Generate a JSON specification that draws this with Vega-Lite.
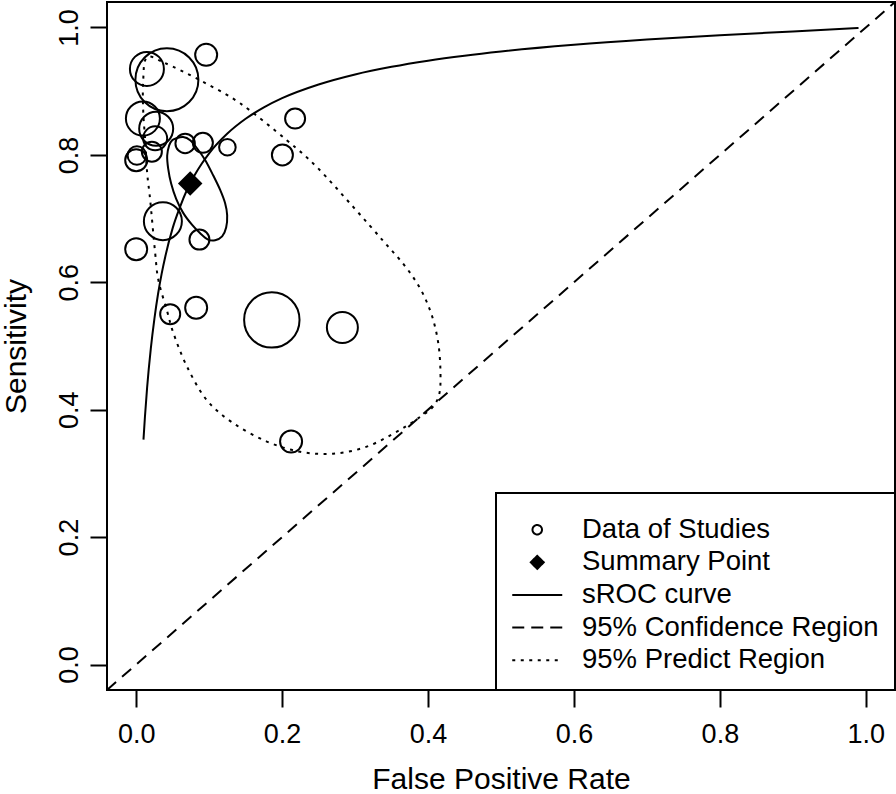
{
  "$schema": "https://vega.github.io/schema/vega-lite/v6.json",
  "width": 788,
  "height": 688,
  "autosize": {"type": "none"},
  "padding": {"left": 107, "top": 2, "right": 1, "bottom": 104},
  "background": "white",
  "config": {
    "view": {"stroke": "black", "strokeWidth": 2},
    "font": "Liberation Sans",
    "axis": {
      "domain": false,
      "grid": false,
      "ticks": true,
      "tickColor": "black",
      "tickWidth": 2,
      "tickSize": 17,
      "labelFont": "Liberation Sans",
      "labelFontSize": 27,
      "labelColor": "black",
      "labelOverlap": false,
      "titleFont": "Liberation Sans",
      "titleFontSize": 30,
      "titleFontWeight": "normal",
      "titleColor": "black"
    }
  },
  "layer": [
    {
      "data": {"values": [
        {"fpr": 0.0147, "sens": 0.935, "weight": 17},
        {"fpr": 0.0421, "sens": 0.918, "weight": 31.5},
        {"fpr": 0.0959, "sens": 0.957, "weight": 11},
        {"fpr": 0.0092, "sens": 0.857, "weight": 17},
        {"fpr": 0.0274, "sens": 0.841, "weight": 17},
        {"fpr": 0.0260, "sens": 0.826, "weight": 12},
        {"fpr": 0.0215, "sens": 0.805, "weight": 10},
        {"fpr": 0.0010, "sens": 0.799, "weight": 9.3},
        {"fpr": 0.0000, "sens": 0.7915, "weight": 11},
        {"fpr": 0.0671, "sens": 0.818, "weight": 9.7},
        {"fpr": 0.0914, "sens": 0.819, "weight": 10},
        {"fpr": 0.1250, "sens": 0.812, "weight": 8.3},
        {"fpr": 0.2178, "sens": 0.857, "weight": 10},
        {"fpr": 0.2004, "sens": 0.800, "weight": 10.5},
        {"fpr": 0.0366, "sens": 0.696, "weight": 19},
        {"fpr": 0.0867, "sens": 0.667, "weight": 10},
        {"fpr": 0.0000, "sens": 0.652, "weight": 11},
        {"fpr": 0.0466, "sens": 0.550, "weight": 10},
        {"fpr": 0.0822, "sens": 0.560, "weight": 11},
        {"fpr": 0.1859, "sens": 0.541, "weight": 27.7},
        {"fpr": 0.2826, "sens": 0.529, "weight": 15.5},
        {"fpr": 0.2123, "sens": 0.350, "weight": 11}
      ]},
      "mark": {"type": "point", "shape": "circle", "filled": false, "strokeWidth": 2, "opacity": 1},
      "encoding": {
        "x": {
          "field": "fpr", "type": "quantitative",
          "scale": {"domain": [-0.04, 1.04], "nice": false, "zero": false},
          "axis": {
            "values": [0, 0.2, 0.4, 0.6, 0.8, 1],
            "format": ".1f",
            "title": "False Positive Rate",
            "labelFlush": false,
            "labelPadding": 14,
            "titlePadding": 17
          }
        },
        "y": {
          "field": "sens", "type": "quantitative",
          "scale": {"domain": [-0.04, 1.04], "nice": false, "zero": false},
          "axis": {
            "values": [0, 0.2, 0.4, 0.6, 0.8, 1],
            "format": ".1f",
            "title": "Sensitivity",
            "labelAngle": -90,
            "labelAlign": "center",
            "labelBaseline": "alphabetic",
            "labelFlush": false,
            "labelPadding": 13,
            "titlePadding": 24
          }
        },
        "size": {
          "field": "weight", "type": "quantitative",
          "scale": {"type": "pow", "exponent": 2, "domain": [0, 32], "range": [0, 4096], "zero": true},
          "legend": null
        },
        "color": {
          "datum": "Data of Studies",
          "scale": {
            "domain": ["Data of Studies", "Summary Point", "sROC curve", "95% Confidence Region", "95% Predict Region"],
            "range": ["black", "black", "black", "black", "black"]
          },
          "legend": {
            "title": " ",
            "titleFontSize": 3,
            "titlePadding": 4,
            "orient": "bottom-right",
            "direction": "vertical",
            "offset": 0,
            "padding": 16,
            "strokeColor": "black",
            "fillColor": "white",
            "labelFont": "Liberation Sans",
            "labelFontSize": 27.5,
            "labelColor": "black",
            "labelLimit": 600,
            "labelOffset": 31,
            "rowPadding": 3.6,
            "symbolSize": 400,
            "symbolOffset": 11.5,
            "symbolStrokeWidth": 2,
            "symbolStrokeColor": "black",
            "encoding": {
              "legend": {"strokeWidth": {"value": 2}},
              "symbols": {
                "shape": {
                  "condition": [
                    {"test": "datum.value === 'Data of Studies'", "value": "M0.475,0A0.475,0.475,0,1,1,-0.475,0A0.475,0.475,0,1,1,0.475,0Z"},
                    {"test": "datum.value === 'Summary Point'", "value": "M-0.65,0L0,-0.65L0.65,0L0,0.65Z"}
                  ],
                  "value": "M-2.5,0L2.5,0"
                },
                "fill": {"value": "black"},
                "fillOpacity": {
                  "condition": {"test": "datum.value === 'Summary Point'", "value": 1},
                  "value": 0
                },
                "stroke": {"value": "black"},
                "strokeDash": {
                  "condition": [
                    {"test": "datum.value === '95% Confidence Region'", "value": [12, 7]},
                    {"test": "datum.value === '95% Predict Region'", "value": [3, 5.5]}
                  ],
                  "value": [1, 0]
                },
                "opacity": {"value": 1}
              }
            }
          }
        }
      }
    },
    {
      "data": {"values": [{"fpr": 0.074, "sens": 0.755}]},
      "mark": {"type": "point", "shape": "diamond", "filled": true, "size": 600, "opacity": 1},
      "encoding": {
        "x": {"field": "fpr", "type": "quantitative"},
        "y": {"field": "sens", "type": "quantitative"},
        "color": {"datum": "Summary Point"}
      }
    },
    {
      "data": {"values": [
        {"fpr": 0.010, "sens": 0.353},
        {"fpr": 0.012, "sens": 0.389},
        {"fpr": 0.015, "sens": 0.435},
        {"fpr": 0.020, "sens": 0.4955},
        {"fpr": 0.025, "sens": 0.543},
        {"fpr": 0.030, "sens": 0.582},
        {"fpr": 0.035, "sens": 0.614},
        {"fpr": 0.040, "sens": 0.641},
        {"fpr": 0.050, "sens": 0.685},
        {"fpr": 0.060, "sens": 0.718},
        {"fpr": 0.070, "sens": 0.746},
        {"fpr": 0.080, "sens": 0.768},
        {"fpr": 0.090, "sens": 0.7864},
        {"fpr": 0.100, "sens": 0.8025},
        {"fpr": 0.125, "sens": 0.8335},
        {"fpr": 0.150, "sens": 0.8567},
        {"fpr": 0.175, "sens": 0.8746},
        {"fpr": 0.200, "sens": 0.889},
        {"fpr": 0.250, "sens": 0.9105},
        {"fpr": 0.300, "sens": 0.9263},
        {"fpr": 0.350, "sens": 0.9383},
        {"fpr": 0.400, "sens": 0.9479},
        {"fpr": 0.450, "sens": 0.9557},
        {"fpr": 0.500, "sens": 0.9623},
        {"fpr": 0.600, "sens": 0.9728},
        {"fpr": 0.700, "sens": 0.9811},
        {"fpr": 0.800, "sens": 0.9879},
        {"fpr": 0.900, "sens": 0.9938},
        {"fpr": 0.990, "sens": 0.9992}
      ]},
      "mark": {"type": "line", "strokeWidth": 2, "interpolate": "monotone"},
      "encoding": {
        "x": {"field": "fpr", "type": "quantitative"},
        "y": {"field": "sens", "type": "quantitative"},
        "color": {"datum": "sROC curve"}
      }
    },
    {
      "data": {"values": [{"fpr": -0.04, "sens": -0.04}, {"fpr": 1.04, "sens": 1.04}]},
      "mark": {"type": "line", "strokeWidth": 2, "strokeDash": [12, 8]},
      "encoding": {
        "x": {"field": "fpr", "type": "quantitative"},
        "y": {"field": "sens", "type": "quantitative"},
        "color": {"datum": "95% Confidence Region"}
      }
    },
    {
      "data": {"values": [
        {"i": 1, "fpr": 0.0548, "sens": 0.826},
        {"i": 2, "fpr": 0.0644, "sens": 0.828},
        {"i": 3, "fpr": 0.0740, "sens": 0.823},
        {"i": 4, "fpr": 0.0836, "sens": 0.810},
        {"i": 5, "fpr": 0.0945, "sens": 0.792},
        {"i": 6, "fpr": 0.1055, "sens": 0.768},
        {"i": 7, "fpr": 0.1151, "sens": 0.745},
        {"i": 8, "fpr": 0.1219, "sens": 0.724},
        {"i": 9, "fpr": 0.1247, "sens": 0.705},
        {"i": 10, "fpr": 0.1233, "sens": 0.686},
        {"i": 11, "fpr": 0.1178, "sens": 0.672},
        {"i": 12, "fpr": 0.1082, "sens": 0.666},
        {"i": 13, "fpr": 0.0986, "sens": 0.667},
        {"i": 14, "fpr": 0.0877, "sens": 0.677},
        {"i": 15, "fpr": 0.0767, "sens": 0.690},
        {"i": 16, "fpr": 0.0644, "sens": 0.709},
        {"i": 17, "fpr": 0.0548, "sens": 0.731},
        {"i": 18, "fpr": 0.0479, "sens": 0.755},
        {"i": 19, "fpr": 0.0438, "sens": 0.779},
        {"i": 20, "fpr": 0.0425, "sens": 0.799},
        {"i": 21, "fpr": 0.0452, "sens": 0.815},
        {"i": 22, "fpr": 0.0493, "sens": 0.823}
      ]},
      "mark": {"type": "line", "strokeWidth": 2, "interpolate": "cardinal-closed"},
      "encoding": {
        "x": {"field": "fpr", "type": "quantitative"},
        "y": {"field": "sens", "type": "quantitative"},
        "order": {"field": "i", "type": "quantitative"},
        "color": {"datum": "95% Confidence Region"}
      }
    },
    {
      "data": {"values": [
        {"i": 1, "fpr": 0.0147, "sens": 0.953},
        {"i": 2, "fpr": 0.0397, "sens": 0.944},
        {"i": 3, "fpr": 0.0877, "sens": 0.917},
        {"i": 4, "fpr": 0.1425, "sens": 0.881},
        {"i": 5, "fpr": 0.2064, "sens": 0.823},
        {"i": 6, "fpr": 0.2475, "sens": 0.781},
        {"i": 7, "fpr": 0.2977, "sens": 0.718},
        {"i": 8, "fpr": 0.3388, "sens": 0.6646},
        {"i": 9, "fpr": 0.3685, "sens": 0.6254},
        {"i": 10, "fpr": 0.3904, "sens": 0.5878},
        {"i": 11, "fpr": 0.4055, "sens": 0.5470},
        {"i": 12, "fpr": 0.4144, "sens": 0.5016},
        {"i": 13, "fpr": 0.4171, "sens": 0.4545},
        {"i": 14, "fpr": 0.4151, "sens": 0.4232},
        {"i": 15, "fpr": 0.4055, "sens": 0.4028},
        {"i": 16, "fpr": 0.3890, "sens": 0.3887},
        {"i": 17, "fpr": 0.3616, "sens": 0.3683},
        {"i": 18, "fpr": 0.3160, "sens": 0.342},
        {"i": 19, "fpr": 0.2699, "sens": 0.331},
        {"i": 20, "fpr": 0.2247, "sens": 0.334},
        {"i": 21, "fpr": 0.1790, "sens": 0.350},
        {"i": 22, "fpr": 0.1329, "sens": 0.379},
        {"i": 23, "fpr": 0.0968, "sens": 0.415},
        {"i": 24, "fpr": 0.0695, "sens": 0.468},
        {"i": 25, "fpr": 0.0511, "sens": 0.520},
        {"i": 26, "fpr": 0.0421, "sens": 0.556},
        {"i": 27, "fpr": 0.0305, "sens": 0.603},
        {"i": 28, "fpr": 0.0260, "sens": 0.646},
        {"i": 29, "fpr": 0.0192, "sens": 0.729},
        {"i": 30, "fpr": 0.0151, "sens": 0.771},
        {"i": 31, "fpr": 0.0123, "sens": 0.823},
        {"i": 32, "fpr": 0.0096, "sens": 0.870},
        {"i": 33, "fpr": 0.0096, "sens": 0.917}
      ]},
      "mark": {"type": "line", "strokeWidth": 2, "strokeDash": [3, 5.5], "interpolate": "cardinal-closed"},
      "encoding": {
        "x": {"field": "fpr", "type": "quantitative"},
        "y": {"field": "sens", "type": "quantitative"},
        "order": {"field": "i", "type": "quantitative"},
        "color": {"datum": "95% Predict Region"}
      }
    }
  ]
}
